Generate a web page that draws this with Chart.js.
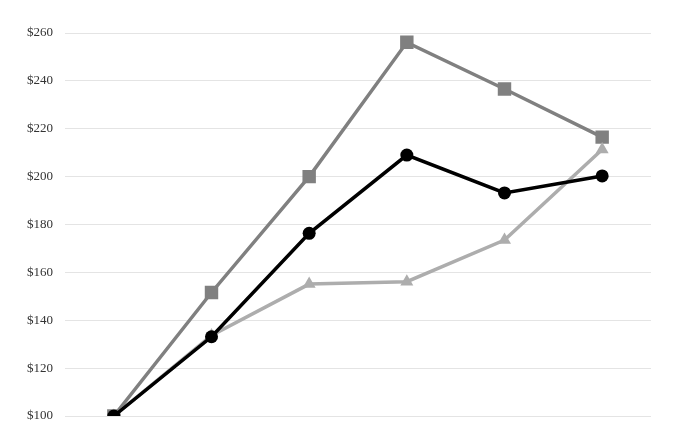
<!DOCTYPE html>
<html>
<head>
<meta charset="utf-8">
<script src="https://cdn.jsdelivr.net/npm/chart.js@4"></script>
<style>
  html, body { margin: 0; padding: 0; background: #fff; }
  #wrap { width: 684px; height: 442px; }
</style>
</head>
<body>
<div id="wrap"><canvas id="chart"></canvas></div>
<script>
// data
const periods = ['P0', 'P1', 'P2', 'P3', 'P4', 'P5'];
const company = [100, 133.1, 176.3, 209.0, 193.2, 200.3];
const indexA = [100, 151.6, 200.0, 256.1, 236.6, 216.5];
const indexB = [100, 133.6, 155.1, 156.1, 173.5, 211.3];
const yTicks = [100, 120, 140, 160, 180, 200, 220, 240, 260];

const ctx = document.getElementById('chart');
new Chart(ctx, {
  type: 'line',
  data: {
    labels: periods,
    datasets: [
      {
        label: 'Company',
        data: company,
        borderColor: '#000000',
        backgroundColor: '#000000',
        borderWidth: 3.5,
        pointStyle: 'circle',
        pointRadius: 6.5,
        pointBorderWidth: 0
      },
      {
        label: 'Index B',
        data: indexB,
        borderColor: '#adadad',
        backgroundColor: '#adadad',
        borderWidth: 3.5,
        pointStyle: 'triangle',
        pointRadius: 7.5,
        pointBorderWidth: 0
      },
      {
        label: 'Index A',
        data: indexA,
        borderColor: '#808080',
        backgroundColor: '#808080',
        borderWidth: 3.5,
        pointStyle: 'rect',
        pointRadius: 9.5,
        pointBorderWidth: 0
      }
    ]
  },
  options: {
    responsive: true,
    maintainAspectRatio: false,
    animation: false,
    layout: { padding: { top: 33, bottom: 26, left: 0, right: 33 } },
    plugins: {
      legend: { display: false },
      tooltip: { enabled: false }
    },
    scales: {
      x: {
        type: 'category',
        offset: true,
        display: false
      },
      y: {
        min: 100,
        max: 260,
        afterBuildTicks: (scale) => { scale.ticks = yTicks.map(v => ({ value: v })); },
        afterFit: (scale) => { scale.width = 65; },
        border: { display: false },
        grid: { color: '#e4e4e4', lineWidth: 1, drawTicks: false },
        ticks: {
          padding: 12,
          color: '#333333',
          font: { family: '"Liberation Serif", "DejaVu Serif", serif', size: 13 },
          callback: (v) => '$' + v
        }
      }
    }
  }
});
</script>
</body>
</html>
